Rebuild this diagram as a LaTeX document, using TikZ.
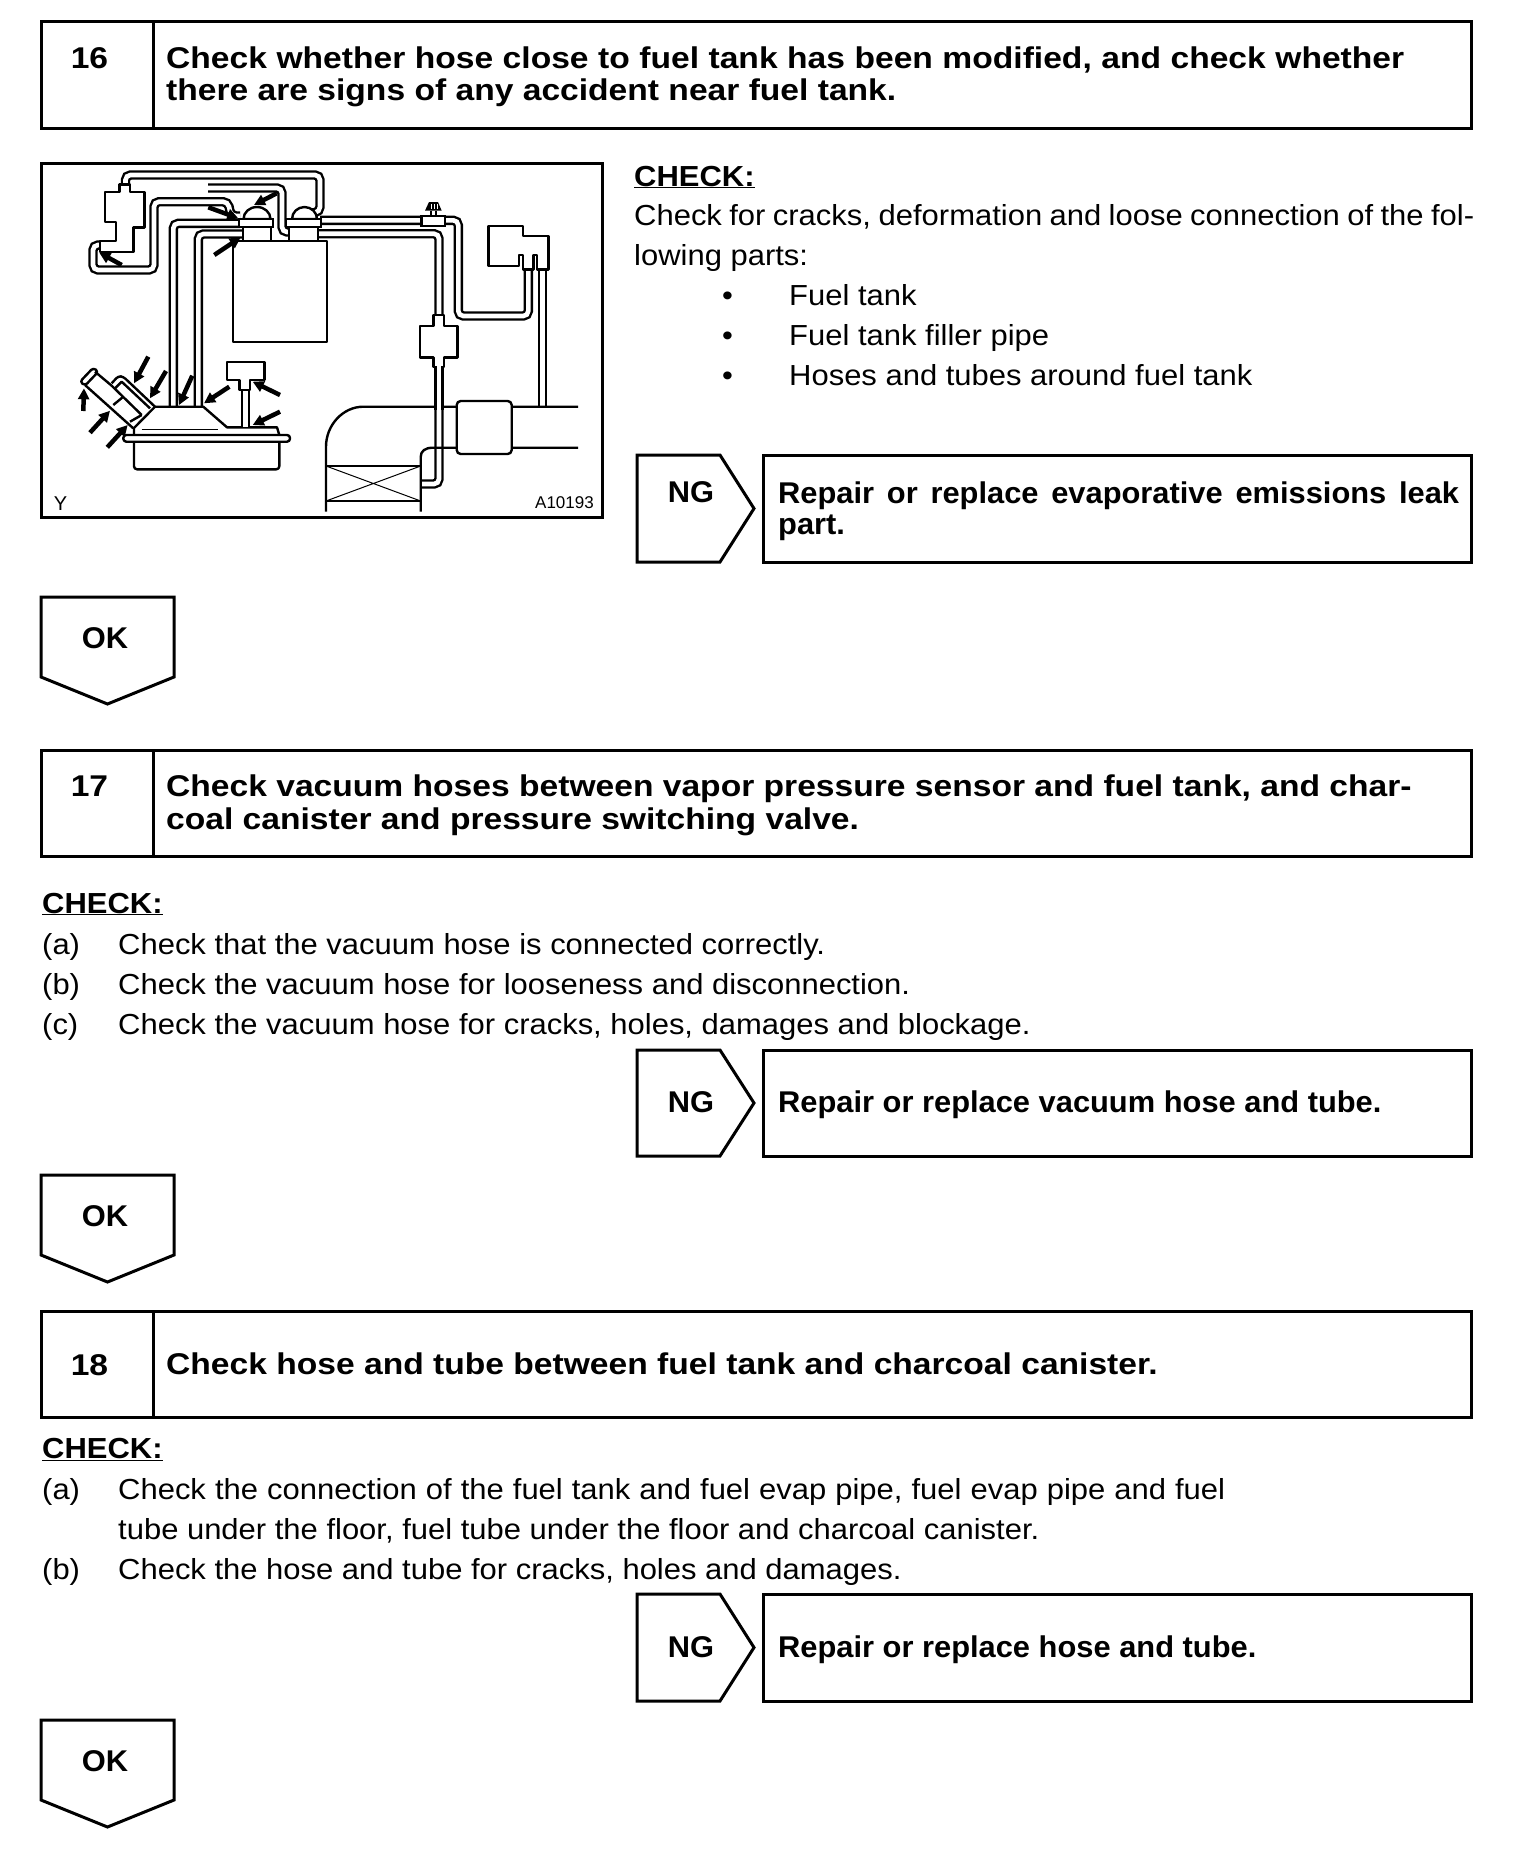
\documentclass[tikz,border=0pt]{standalone}
\usepackage{fontspec}
\setmainfont{Liberation Sans}
\newfontfamily\bodyfam[FakeStretch=1.068]{Liberation Sans}
\newfontfamily\headfam[FakeStretch=1.12]{Liberation Sans}
\newfontfamily\actfam[FakeStretch=1.028]{Liberation Sans}
\usetikzlibrary{arrows.meta}
\newcommand{\bodyfs}{\bodyfam\fontsize{29}{33}\selectfont}
\newcommand{\headfs}{\headfam\fontsize{30}{33}\selectfont\bfseries}
\newcommand{\actfs}{\actfam\fontsize{30}{33}\selectfont\bfseries}
\newcommand{\chk}{\underline{\bfseries CHECK:}}
\tikzset{
 x=1pt,y=-1pt,
 boxline/.style={draw=black,line width=3pt,line join=miter},
 frame/.style={boxline,rectangle,anchor=north west,inner sep=0pt,outer sep=0pt},
 body/.style={anchor=base west,inner sep=0pt,font=\bodyfs},
 head/.style={anchor=base west,inner sep=0pt,font=\headfs},
 act/.style={anchor=base west,inner sep=0pt,font=\actfs},
 label/.style={anchor=base,inner sep=0pt,font=\actfs},
 numlabel/.style={anchor=base,inner sep=0pt,font=\headfs},
 ln/.style={draw=black,line width=2.4pt,line join=round},
 thin line/.style={draw=black,line width=1pt},
 hose/.style={draw=black,line width=2.4pt,double=white,double distance=4.6pt,rounded corners=5pt},
 mark arrow/.style={draw=black,line width=4.5pt,-{Triangle[width=11pt,length=11pt]}},
}
\newcommand{\stepbox}[5]{% name, top, bottom, number, baseline
 \node[frame,minimum width=1430pt,minimum height=#3pt-#2pt] (#1box) at (41,#2) {};
 \draw[boxline] (153,#2) -- (153,#3);
 \node[numlabel] (#1num) at (89.5,#5) {#4};
}
\newcommand{\ngbox}[4]{% name, top, bottom, baseline
 \draw[boxline] (637,#2) -- (720,#2) -- (754,{(#2+#3)/2}) -- (720,#3) -- (637,#3) -- cycle;
 \node[label] (#1ng) at (691,#4) {NG};
 \node[frame,minimum width=708pt,minimum height=#3pt-#2pt] (#1act) at (763,#2) {};
}
\newcommand{\okbox}[2]{% name, top
 \draw[boxline] (41,#2) -- (174,#2) -- (174,{#2+80}) -- (107.5,{#2+107}) -- (41,{#2+80}) -- cycle;
 \node[label] (#1ok) at (105,{#2+51}) {OK};
}
\begin{document}
\begin{tikzpicture}
\useasboundingbox (0,0) rectangle (1520,1872);
\fill[white] (0,0) rectangle (1520,1872);

% ---------- step 16
\stepbox{a}{21}{128}{16}{68}
\node[head] (a1) at (166,68) {\hbox to 1238pt{Check whether hose close to fuel tank has been modified, and check whether}};
\node[head] (a2) at (166,100) {there are signs of any accident near fuel tank.};

\node[body] (ac) at (634,186) {\chk};
\node[body] (al1) at (634,225) {\hbox to 840pt{Check for cracks, deformation and loose connection of the fol-}};
\node[body] (al2) at (634,265) {lowing parts:};
\node[body] (ab1) at (722,305) {•};
\node[body] (ab2) at (722,345) {•};
\node[body] (ab3) at (722,385) {•};
\node[body] (at1) at (789,305) {Fuel tank};
\node[body] (at2) at (789,345) {Fuel tank filler pipe};
\node[body] (at3) at (789,385) {Hoses and tubes around fuel tank};

\ngbox{a}{455}{562}{502}
\node[act] (ar1) at (778,503) {\hbox to 681pt{Repair or replace evaporative emissions leak}};
\node[act] (ar2) at (778,534) {part.};
\okbox{a}{597}

% ---------- figure
\node[frame,minimum width=561pt,minimum height=354pt] (fig) at (41,163) {};
% hoses
\draw[hose] (125.5,184) -- (125.5,175) -- (320,175) -- (320,212) -- (312,213);
\draw[hose] (100,245) -- (93,245) -- (93,270) -- (154,270) -- (154,201.7) -- (228,201.7) -- (231,216) -- (240,216);
\draw[hose] (173.3,407) -- (173.3,223.3) -- (240,223.3);
\draw[hose] (198.3,407) -- (198.3,234) -- (243,234);
\draw[hose] (208,188) -- (282,188) -- (282,232) -- (289,232);
\draw[hose] (320,220.3) -- (458.3,220.3) -- (458.3,316) -- (528.3,316) -- (528.3,269);
\draw[hose] (318,233.7) -- (439,233.7) -- (439,316);
\draw[hose] (439,366) -- (439,484) -- (421,484);
\draw[hose] (542.7,269) -- (542.7,407);
% tank
\draw[ln,fill=white] (233,241) rectangle (327,342);
\draw[ln,fill=white] (243,227) rectangle (271,241);
\draw[ln,fill=white] (289,227) rectangle (318,241);
\draw[ln,fill=white] (243.5,219) arc[start angle=180,end angle=360,x radius=13.5,y radius=12] -- cycle;
\draw[ln,fill=white] (292,219) arc[start angle=180,end angle=360,x radius=12.5,y radius=12] -- cycle;
\draw[line width=2.5pt,fill=white] (239,219) rectangle (273,227);
\draw[line width=2.5pt,fill=white] (286,219) rectangle (321,227);
% vapor sensor
\draw[ln,fill=white] (105,192) -- (119.3,192) -- (119.3,184.3) -- (130,184.3) -- (130,192) -- (144.3,192) -- (144.3,227.3) -- (133.3,227.3) -- (133.3,251.7) -- (100,251.7) -- (100,240.7) -- (116,240.7) -- (116,221.7) -- (105,221.7) -- cycle;
% clamp and bolt
\draw[line width=2.5pt,fill=white] (421.7,216) rectangle (445,226);
\draw[ln] (431,210.7) -- (431,216) (436,210.7) -- (436,216);
\fill[black] (425,210.7) -- (429,202) -- (438,202) -- (441.7,210.7) -- cycle;
\draw[white,line width=.8pt] (431,204) -- (431,209) (434,204) -- (434,209) (437,204) -- (437,209);
% right component
\draw[ln,fill=white] (488.3,226) -- (522.7,226) -- (522.7,236) -- (548.3,236) -- (548.3,269.3) -- (536.7,269.3) -- (536.7,255) -- (533.3,255) -- (533.3,269.3) -- (522.7,269.3) -- (522.7,255) -- (519,255) -- (519,265.7) -- (488.3,265.7) -- cycle;
% valve
\draw[ln,fill=white] (433.3,315) -- (444,315) -- (444,325.7) -- (457.3,325.7) -- (457.3,357.3) -- (444,357.3) -- (444,367) -- (433.3,367) -- (433.3,357.3) -- (420,357.3) -- (420,325.7) -- (433.3,325.7) -- cycle;
% duct
\draw[ln] (578,406.7) -- (511.7,406.7) (456.7,406.7) -- (363.3,406.7) .. controls (343,406.7) and (326,425) .. (326,446.7) -- (326,511.7);
\draw[ln] (578,447.7) -- (511.7,447.7) (456.7,447.7) -- (433,447.7) .. controls (425,447.7) and (420.7,451) .. (420.7,457) -- (420.7,511.7);
\draw[ln] (326,466) -- (420.7,466) (326,501) -- (420.7,501);
\draw[thin line] (326,466) -- (420.7,501) (326,501) -- (420.7,466);
\draw[ln,fill=white,rounded corners=4pt] (456.7,401) rectangle (511.7,454);
\draw[hose] (439,366) -- (439,410);
% fuel unit
\draw[ln,rounded corners=3pt] (134,441) -- (134,469.3) -- (279.3,469.3) -- (279.3,441);
\draw[ln,fill=white,rounded corners=3pt] (123.3,435) rectangle (290,441.7);
\draw[ln] (134,435) -- (134,428) -- (155,406.7) -- (203.3,406.7) -- (227,427.3) -- (277,427.3) -- (279.3,435);
\draw[thin line] (141.7,429) -- (218.3,429);
% filler neck
\draw[ln,rounded corners=3pt] (80,381.7) -- (93.3,367.7) -- (98.3,371.7) -- (85,385.7) -- cycle;
\draw[ln] (95,371.7) -- (111.7,385.7) (85,385) -- (133.3,428.3);
\draw[ln,rounded corners=3pt] (111.7,383.3) -- (118.3,376) -- (123.3,376.7) -- (155,406.7);
\draw[ln] (115,388.3) -- (121.7,381.7) -- (150,408.3);
\draw[ln] (111.7,385.7) -- (141.7,415);
\draw[ln] (113.3,405) -- (123.3,396.7) (130,421.7) -- (141.7,415);
% T sensor
\draw[hose] (245.7,385) -- (245.7,427);
\draw[ln,fill=white] (226.7,361.7) -- (264.3,361.7) -- (264.3,380) -- (250,380) -- (250,390) -- (239.3,390) -- (239.3,380) -- (226.7,380) -- cycle;
% arrows
\draw[mark arrow] (121.7,265) -- (99.3,252.7);
\draw[mark arrow] (276.7,193.3) -- (254,205);
\draw[mark arrow] (208.3,207.3) -- (238.3,218.3);
\draw[mark arrow] (214.3,255) -- (240.7,237.3);
\draw[mark arrow] (83.3,411) -- (84,388.3);
\draw[mark arrow] (148.3,356.7) -- (134,383.3);
\draw[mark arrow] (166,371) -- (150,398.3);
\draw[mark arrow] (192.3,375.7) -- (179,405);
\draw[mark arrow] (229.3,386.7) -- (204,403.3);
\draw[mark arrow] (280,395) -- (252.7,381.7);
\draw[mark arrow] (280,411.7) -- (252.7,425);
\draw[mark arrow] (90,432.7) -- (110,410.7);
\draw[mark arrow] (107.3,447.3) -- (127.7,425);
\node[anchor=base,inner sep=0pt,font=\fontsize{20}{20}\selectfont] (figy) at (60.5,510.7) {Y};
\node[anchor=base east,inner sep=0pt,font=\fontsize{17}{20}\selectfont] (figc) at (594,508.3) {A10193};

% ---------- step 17
\stepbox{b}{750}{856}{17}{796}
\node[head] (b1) at (166,796) {Check vacuum hoses between vapor pressure sensor and fuel tank, and char-};
\node[head] (b2) at (166,829) {coal canister and pressure switching valve.};
\node[body] (bc) at (42,913) {\chk};
\node[body] (bla) at (42,954) {(a)};
\node[body] (blb) at (42,994) {(b)};
\node[body] (blc) at (42,1034) {(c)};
\node[body] (bta) at (118,954) {Check that the vacuum hose is connected correctly.};
\node[body] (btb) at (118,994) {Check the vacuum hose for looseness and disconnection.};
\node[body] (btc) at (118,1034) {Check the vacuum hose for cracks, holes, damages and blockage.};
\ngbox{b}{1050}{1156}{1112}
\node[act] (br1) at (778,1112) {Repair or replace vacuum hose and tube.};
\okbox{b}{1175}

% ---------- step 18
\stepbox{c}{1311}{1417}{18}{1375}
\node[head] (c1) at (166,1374) {Check hose and tube between fuel tank and charcoal canister.};
\node[body] (cc) at (42,1458) {\chk};
\node[body] (cla) at (42,1499) {(a)};
\node[body] (clb) at (42,1579) {(b)};
\node[body] (cta) at (118,1499) {\hbox to 1107pt{Check the connection of the fuel tank and fuel evap pipe, fuel evap pipe and fuel}};
\node[body] (ctb) at (118,1539) {tube under the floor, fuel tube under the floor and charcoal canister.};
\node[body] (ctc) at (118,1579) {Check the hose and tube for cracks, holes and damages.};
\ngbox{c}{1594}{1701}{1657}
\node[act] (cr1) at (778,1657) {Repair or replace hose and tube.};
\okbox{c}{1720}
\end{tikzpicture}
\end{document}
